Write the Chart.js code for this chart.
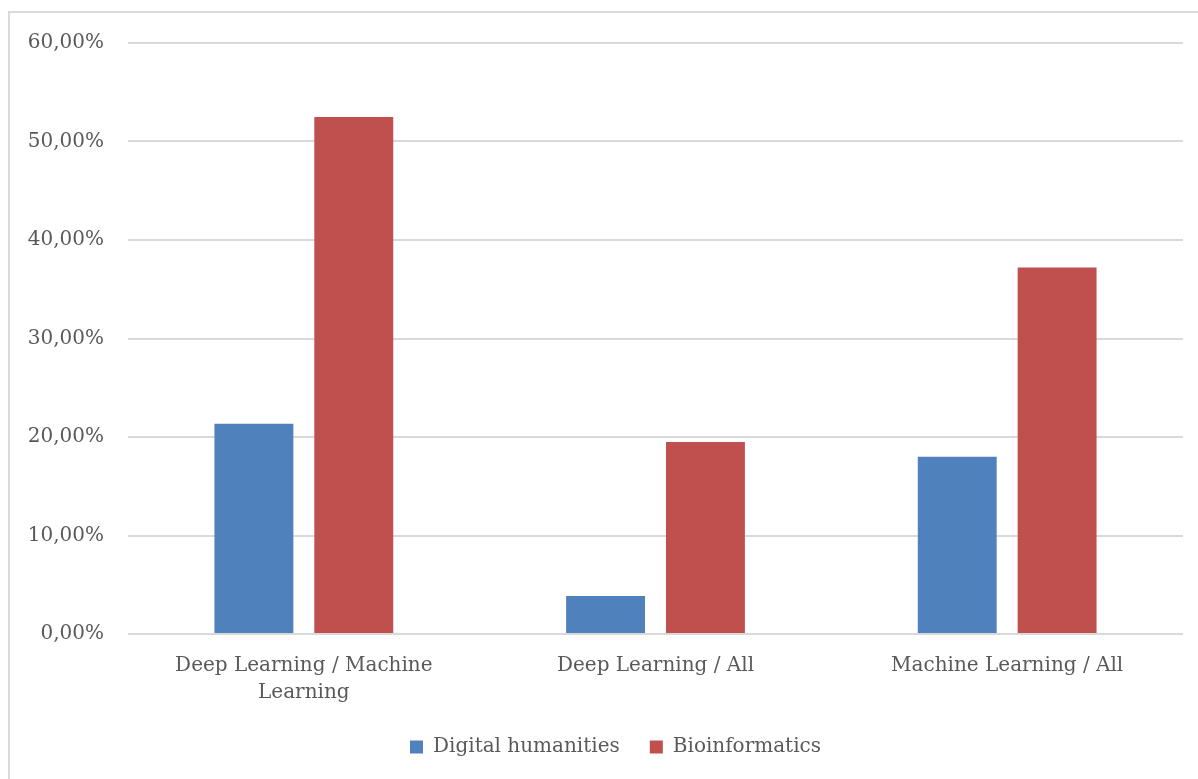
<!DOCTYPE html>
<html>
<head>
<meta charset="utf-8">
<script src="https://cdn.jsdelivr.net/npm/chart.js@4"></script>
<style>
  html, body { margin: 0; padding: 0; background: #fff; overflow: hidden; }
  #frame { position: absolute; left: 8px; top: 11px; width: 1200px; height: 800px; border: 2px solid #d9d9d9; }
  #wrap { position: absolute; left: 0; top: 0; width: 1198px; height: 779px; }
</style>
</head>
<body>
<div id="frame"></div>
<div id="wrap"><canvas id="chart"></canvas></div>
<script>
// categories and values (percent)
const categories = [['Deep Learning / Machine', 'Learning'], 'Deep Learning / All', 'Machine Learning / All'];
const digitalHumanities = [21.35, 3.85, 18.0];
const bioinformatics = [52.5, 19.5, 37.2];

const textColor = '#595959';
const gridColor = '#d9d9d9';
const fontFace = 'DejaVu Serif';

// legend sits a bit right of the chart centre in the original
const legendShift = {
  id: 'legendShift',
  afterLayout(chart) {
    chart.legend.left += 48;
  }
};

const ctx = document.getElementById('chart');
new Chart(ctx, {
  type: 'bar',
  data: {
    labels: categories,
    datasets: [{
      label: 'Digital humanities',
      data: digitalHumanities,
      backgroundColor: '#4f81bd'
    }, {
      label: 'Bioinformatics',
      data: bioinformatics,
      backgroundColor: '#c0504d'
    }]
  },
  options: {
    responsive: true,
    maintainAspectRatio: false,
    animation: false,
    layout: { padding: { top: 43, right: 15, bottom: 12, left: 0 } },
    datasets: { bar: { barPercentage: 0.79, categoryPercentage: 0.568 } },
    scales: {
      x: {
        grid: { display: false },
        border: { display: false },
        ticks: { color: textColor, font: { family: fontFace, size: 20, lineHeight: 1.35 }, padding: 10, maxRotation: 0 },
        afterFit: (s) => { s.height = 73; }
      },
      y: {
        min: 0, max: 60,
        ticks: {
          stepSize: 10, color: textColor, padding: 24,
          font: { family: fontFace, size: 20 },
          callback: (v) => v.toFixed(2).replace('.', ',') + '%'
        },
        grid: { color: gridColor, lineWidth: 2, drawTicks: false },
        border: { display: false },
        afterFit: (s) => { s.width = 128; }
      }
    },
    plugins: {
      legend: {
        position: 'bottom',
        labels: { color: textColor, font: { family: fontFace, size: 20 }, boxWidth: 13, boxHeight: 13, padding: 30 }
      },
      tooltip: { enabled: false }
    }
  },
  plugins: [legendShift]
});
</script>
</body>
</html>
